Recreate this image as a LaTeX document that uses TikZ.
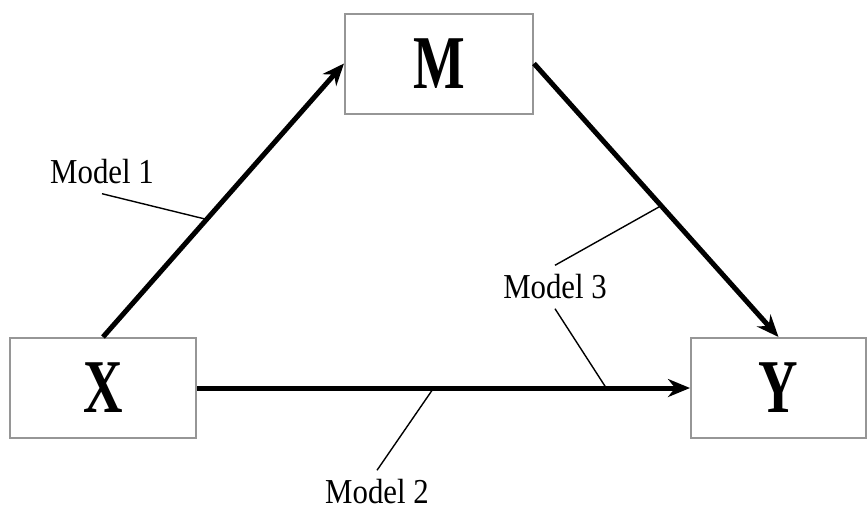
\documentclass[tikz,border=0pt]{standalone}
\usepackage{fontspec}
\setmainfont{Liberation Serif}
\newfontfamily\narrowserif[FakeStretch=0.72]{Liberation Serif}
\newfontfamily\labelserif[FakeStretch=0.88]{Liberation Serif}
\usetikzlibrary{positioning, arrows.meta, calc}
\definecolor{boxgray}{RGB}{150, 150, 150}
\tikzset{
  % Variable box
  varbox/.style={
    rectangle, draw=boxgray, line width=1pt,
    minimum height=50pt, inner sep=0pt,
    font=\narrowserif\bfseries\fontsize{38}{44}\selectfont
  },
  % Path arrow
  arr/.style={-{Stealth[length=11pt, width=9pt]}, line width=2.5pt, color=black},
  % Model label and its leader line
  modellab/.style={font=\labelserif\fontsize{17.5}{20}\selectfont, inner sep=4.5pt},
  leader/.style={line width=0.7pt},
}
\begin{document}
\begin{tikzpicture}[x=0.5pt, y=-0.5pt]
  \useasboundingbox (0,0) rectangle (867,509);
  \node[varbox, minimum width=93pt]   (x) at (103,388)   {X};
  \node[varbox, minimum width=94pt]   (m) at (439,63.5)  {M};
  \node[varbox, minimum width=87.5pt] (y) at (778.5,388) {Y};
  \draw[arr] (x.north) -- coordinate[pos=0.43] (p1) (m.west);
  \draw[arr] (m.east)  -- coordinate[pos=0.52] (p3a) (y.north);
  \draw[arr] (x.east)  -- coordinate[pos=0.48] (p2) coordinate[pos=0.83] (p3b) (y.west);
  \node[modellab] (lab1) at (102,172) {Model 1};
  \node[modellab] (lab2) at (377,492) {Model 2};
  \node[modellab] (lab3) at (555,287) {Model 3};
  \draw[leader] (lab1.south) -- (p1);
  \draw[leader] (lab2.north) -- (p2);
  \draw[leader] (lab3.north) -- (p3a);
  \draw[leader] (lab3.south) -- (p3b);
\end{tikzpicture}
\end{document}
